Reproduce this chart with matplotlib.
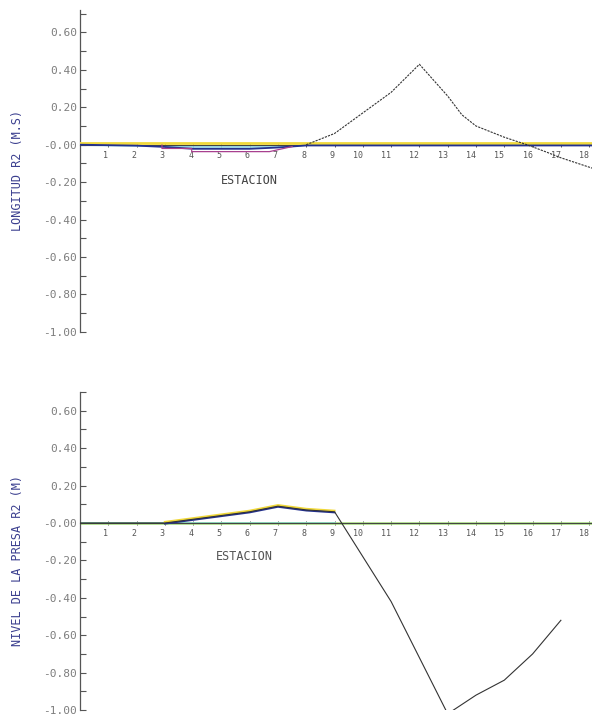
import matplotlib
matplotlib.use("Agg")
import matplotlib.pyplot as plt
from matplotlib.ticker import MultipleLocator

# station numbers on the x axis
stations = list(range(1, 19))
y_ticks = [0.60, 0.40, 0.20, 0.00, -0.20, -0.40, -0.60, -0.80, -1.00]
y_tick_labels = ["0.60", "0.40", "0.20", "-0.00", "-0.20", "-0.40", "-0.60", "-0.80", "-1.00"]

# upper panel: longitud
top_black_x = [8, 9, 10, 11, 12, 13, 13.5, 14, 15, 15.8, 16.5, 17, 18.2]
top_black_y = [0.00, 0.06, 0.17, 0.28, 0.43, 0.26, 0.16, 0.10, 0.04, 0.00, -0.04, -0.07, -0.13]
top_yellow_x = [0, 18.2]
top_yellow_y = [0.007, 0.007]
top_blue_x = [0, 2, 3, 4, 6, 7, 8, 18.2]
top_blue_y = [0.0, -0.005, -0.012, -0.022, -0.022, -0.015, -0.004, -0.004]
top_purple_x = [2.9, 2.9, 3.95, 3.95, 6.7, 7.5]
top_purple_y = [-0.002, -0.02, -0.02, -0.037, -0.037, -0.01]
top_cyan_x = [0, 3, 4, 7, 8, 18.2]
top_cyan_y = [-0.002, -0.008, -0.012, -0.012, -0.002, -0.002]

# lower panel: nivel
bot_black_x = [0, 3, 4, 5, 6, 7, 8, 9, 10, 11, 12, 13, 14, 15, 16, 17]
bot_black_y = [0.0, 0.0, 0.02, 0.04, 0.06, 0.09, 0.07, 0.06, -0.18, -0.42, -0.72, -1.02, -0.92, -0.84, -0.70, -0.52]
bot_top_x = [3, 4, 5, 6, 7, 8, 9]
bot_top_y = [0.0, 0.02, 0.04, 0.06, 0.09, 0.07, 0.06]
bot_green_x = [0, 18.2]
bot_green_y = [0.0, 0.0]

mono = "DejaVu Sans Mono"
tick_col = "#7d7d7d"
label_col = "#3b3f8f"

fig = plt.figure(figsize=(5.92, 7.18), dpi=100)
ax1 = fig.add_axes([0.135, 0.538, 0.865, 0.448])
ax2 = fig.add_axes([0.135, 0.011, 0.865, 0.443])


def style(ax, ytop):
    ax.set_xlim(0, 18.1)
    ax.set_ylim(-1.0, ytop)
    for s in ["top", "right"]:
        ax.spines[s].set_visible(False)
    ax.spines["left"].set_color("#555555")
    ax.spines["left"].set_linewidth(0.9)
    ax.spines["bottom"].set_position(("data", 0))
    ax.spines["bottom"].set_color("#444444")
    ax.spines["bottom"].set_linewidth(0.8)
    ax.set_yticks(y_ticks)
    ax.set_yticklabels(y_tick_labels, family=mono, fontsize=8, color=tick_col)
    ax.yaxis.set_minor_locator(MultipleLocator(0.1))
    ax.tick_params(axis="y", which="both", direction="in", length=4, width=0.8, color="#555555", pad=2)
    ax.set_xticks(stations)
    ax.set_xticklabels([str(s) for s in stations], family=mono, fontsize=6, color="#555555", ha="right")
    ax.tick_params(axis="x", direction="inout", length=3, width=0.7, color="#555555", pad=3)


style(ax1, 0.72)
ax1.plot(top_cyan_x, top_cyan_y, color="#8fd8e8", lw=1.2, zorder=2)
ax1.plot(top_yellow_x, top_yellow_y, color="#f0d83a", lw=2.0, zorder=3)
ax1.plot(top_blue_x, top_blue_y, color="#23308f", lw=1.3, zorder=4)
ax1.plot(top_purple_x, top_purple_y, color="#a8408f", lw=0.9, zorder=4)
ax1.plot(top_black_x, top_black_y, color="#333333", lw=0.8, ls=(0, (2, 1)), zorder=5)
ax1.text(6.0, -0.19, "ESTACION", family=mono, fontsize=8.5, color="#444444", ha="center", va="center")
fig.text(0.03, 0.763, "LONGITUD R2 (M.S)", family=mono, fontsize=8.5, color=label_col,
         rotation=90, ha="center", va="center")

style(ax2, 0.70)
ax2.plot(bot_green_x, bot_green_y, color="#a6e27a", lw=1.8, zorder=2)
ax2.plot([0, 9], [0, 0], color="#86d8c6", lw=1.2, zorder=2)
ax2.plot(bot_top_x, [v + 0.006 for v in bot_top_y], color="#f0d83a", lw=1.4, zorder=3)
ax2.plot(bot_top_x, [v - 0.004 for v in bot_top_y], color="#23308f", lw=1.2, zorder=3)
ax2.plot(bot_black_x, bot_black_y, color="#333333", lw=0.8, zorder=4)
ax2.text(5.8, -0.18, "ESTACION", family=mono, fontsize=8.5, color="#555555", ha="center", va="center")
fig.text(0.03, 0.22, "NIVEL DE LA PRESA R2 (M)", family=mono, fontsize=8.5, color=label_col,
         rotation=90, ha="center", va="center")

fig.savefig("out.png", dpi=100)
